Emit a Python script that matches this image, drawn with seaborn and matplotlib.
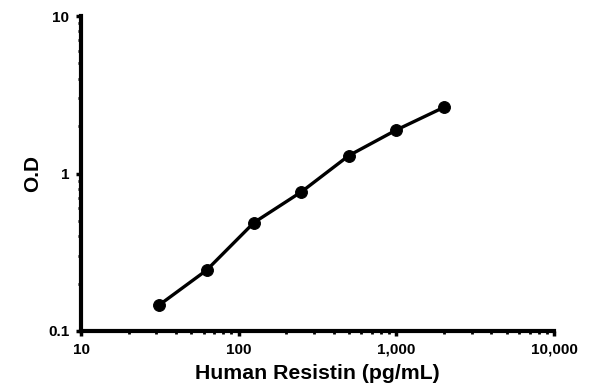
import matplotlib
matplotlib.use("Agg")
import matplotlib.pyplot as plt
import matplotlib.ticker as mticker
import seaborn as sns
import pandas as pd

concentration = [31.25, 62.5, 125, 250, 500, 1000, 2000]
od = [0.146, 0.243, 0.488, 0.765, 1.30, 1.89, 2.63]
x_ticks = [10, 100, 1000, 10000]
x_tick_labels = ["10", "100", "1,000", "10,000"]
y_ticks = [0.1, 1, 10]
y_tick_labels = ["0.1", "1", "10"]

sns.set_style("white")
plt.rcParams['font.family'] = ['Liberation Sans', 'DejaVu Sans']
plt.rcParams['text.color'] = 'black'
plt.rcParams['axes.labelcolor'] = 'black'

df = pd.DataFrame({"conc": concentration, "od": od})

fig = plt.figure(figsize=(5.96, 3.91), dpi=100)
ax = fig.add_axes([0.136, 0.1535, 0.7935, 0.8055])
sns.lineplot(data=df, x="conc", y="od", ax=ax, color="black", linewidth=2.4,
             marker="o", markersize=8.5, markeredgecolor="black", markerfacecolor="black")
ax.set_xscale("log")
ax.set_yscale("log")
ax.set_xlim(10, 10000)
ax.set_ylim(0.1, 10)
ax.set_xticks(x_ticks)
ax.set_xticklabels(x_tick_labels)
ax.set_yticks(y_ticks)
ax.set_yticklabels(y_tick_labels)
ax.xaxis.set_minor_locator(mticker.LogLocator(base=10, subs=range(2, 10)))
ax.yaxis.set_minor_locator(mticker.LogLocator(base=10, subs=range(2, 10)))
ax.xaxis.set_minor_formatter(mticker.NullFormatter())
ax.yaxis.set_minor_formatter(mticker.NullFormatter())
for s in ["top", "right"]:
    ax.spines[s].set_visible(False)
for s in ["left", "bottom"]:
    ax.spines[s].set_linewidth(3)
    ax.spines[s].set_color("black")
ax.tick_params(which="both", bottom=True, left=True, top=False, right=False)
ax.tick_params(which="major", direction="out", length=3.5, width=2.5, colors="black",
               labelsize=11, pad=5)
ax.tick_params(which="minor", direction="out", length=2, width=2, colors="black")
for lab in ax.get_xticklabels() + ax.get_yticklabels():
    lab.set_fontweight("bold")
    lab.set_color("black")
ax.set_xlabel("Human Resistin (pg/mL)", fontsize=15.3, fontweight="bold", labelpad=5, color="black")
ax.set_ylabel("O.D", fontsize=15, fontweight="bold", labelpad=4, color="black")
ax.grid(False)
fig.savefig("out.png", dpi=100)
